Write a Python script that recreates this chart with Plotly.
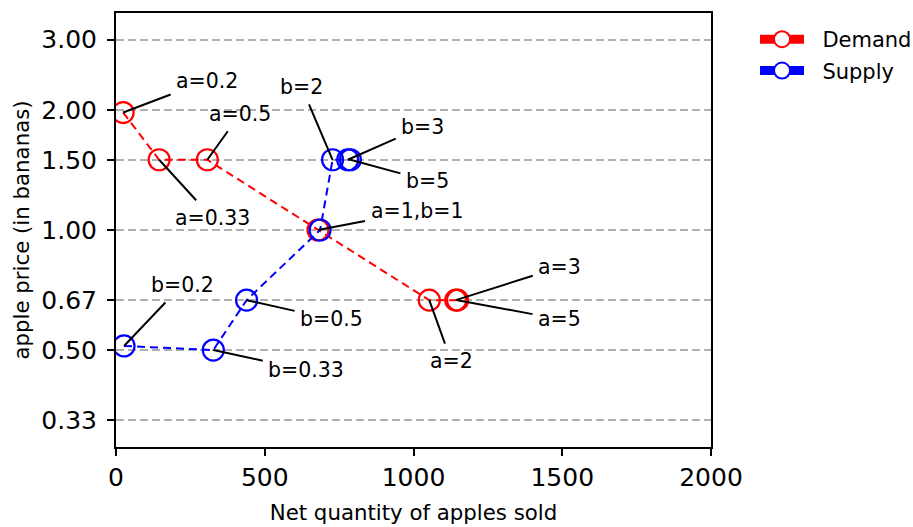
import math
import plotly.graph_objects as go

# ---- data ----
demand_labels = ["a=0.2", "a=0.33", "a=0.5", "a=1,b=1", "a=2", "a=3", "a=5"]
demand_qty = [24, 145, 307, 679, 1053, 1142, 1148]
demand_price = [1.97, 1.5, 1.5, 1.0, 0.667, 0.667, 0.667]

supply_labels = ["b=0.2", "b=0.33", "b=0.5", None, "b=2", "b=3", "b=5"]
supply_qty = [27, 327, 439, 686, 728, 779, 788]
supply_price = [0.512, 0.5, 0.667, 1.0, 1.5, 1.5, 1.5]

y_tickvals = [1/3, 1/2, 2/3, 1, 1.5, 2, 3]
y_ticktext = ["0.33", "0.50", "0.67", "1.00", "1.50", "2.00", "3.00"]
x_tickvals = [0, 500, 1000, 1500, 2000]

series_names = ["Demand", "Supply"]

# label offsets (pixels, text centre relative to point)
demand_offsets = [(84, -32), (53, 58), (33, -46), (99, -19), (22, 61), (104, -33), (102, 19)]
supply_offsets = [(58, -61), (93, 20), (85, 19), None, (-31, -73), (75, -33), (77, 21)]

FONT = "DejaVu Sans"
RED = "#ff0000"
BLUE = "#0000ff"

fig = go.Figure()

for qty, price, col in [(demand_qty, demand_price, RED), (supply_qty, supply_price, BLUE)]:
    fig.add_trace(go.Scatter(
        x=qty, y=price, mode="lines+markers", showlegend=False,
        line=dict(color=col, width=2, dash="8px,5px"),
        marker=dict(symbol="circle-open", size=21, color=col, line=dict(width=2.2, color=col)),
    ))

# legend entries
for name, col, grp in [(series_names[0], RED, "d"), (series_names[1], BLUE, "s")]:
    fig.add_trace(go.Scatter(
        x=[None], y=[None], mode="lines+markers", name="\u00a0\u00a0" + name, legendgroup=grp,
        line=dict(color=col, width=9),
        marker=dict(symbol="circle", size=16, color="white", line=dict(width=2, color=col)),
    ))

annotations = []
for labels, qty, price, offs in [(demand_labels, demand_qty, demand_price, demand_offsets),
                                  (supply_labels, supply_qty, supply_price, supply_offsets)]:
    for lab, q, p, off in zip(labels, qty, price, offs):
        if lab is None:
            continue
        annotations.append(dict(
            x=q, y=math.log10(p), xref="x", yref="y", text=lab,
            showarrow=True, arrowhead=0, arrowwidth=2, arrowcolor="black",
            ax=off[0], ay=off[1], borderpad=5,
            font=dict(family=FONT, size=20.5, color="black"),
        ))

fig.update_layout(
    width=913, height=527,
    margin=dict(l=116, r=202, t=13, b=80, autoexpand=False),
    paper_bgcolor="white", plot_bgcolor="white",
    font=dict(family=FONT, color="black"),
    annotations=annotations,
    legend=dict(x=1.074, y=0.986, xanchor="left", yanchor="top",
                font=dict(family=FONT, size=21), traceorder="grouped",
                tracegroupgap=1, itemwidth=44, bgcolor="rgba(0,0,0,0)"),
)

fig.update_xaxes(
    range=[0, 2000], tickvals=x_tickvals, showgrid=False, zeroline=False,
    showline=True, linecolor="black", linewidth=2, mirror=True,
    ticks="outside", ticklen=7, tickwidth=2, tickcolor="black",
    tickfont=dict(family=FONT, size=25),
    title=dict(text="Net quantity of apples sold", font=dict(family=FONT, size=21.3), standoff=14),
)
fig.update_yaxes(
    type="log", range=[math.log10(1/3.5), math.log10(3.5)],
    tickvals=y_tickvals, ticktext=y_ticktext,
    showgrid=True, gridcolor="#b0b0b0", gridwidth=1.6, griddash="8px,4px",
    zeroline=False, showline=True, linecolor="black", linewidth=2, mirror=True,
    ticks="outside", ticklen=7, tickwidth=2, tickcolor="black",
    tickfont=dict(family=FONT, size=25), ticklabelstandoff=5,
    title=dict(text="apple price (in bananas)", font=dict(family=FONT, size=21.3), standoff=6),
)

fig.write_html("out.html", config={"displayModeBar": False},
               post_script="document.body.style.margin='0';")
